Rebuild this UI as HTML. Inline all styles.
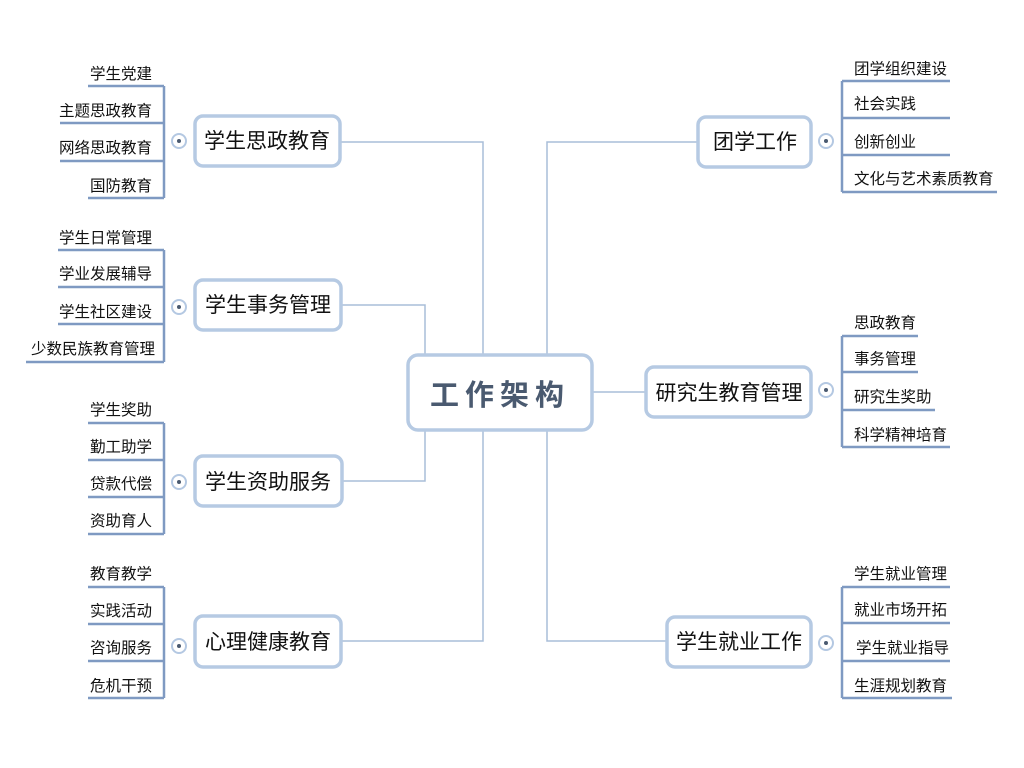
<!DOCTYPE html>
<html><head><meta charset="utf-8"><style>
html,body{margin:0;padding:0;background:#fff;width:1024px;height:768px;overflow:hidden}
text{font-family:"Liberation Sans","Noto Sans CJK SC",sans-serif;fill:#111}
</style></head><body>
<svg width="1024" height="768" viewBox="0 0 1024 768" xmlns="http://www.w3.org/2000/svg">
<g fill="none" stroke="#a9bdd8" stroke-width="1.5">
<path d="M340 142H483V355M341 305H425V355M342 481H425V430M341 641H483V430"/>
<path d="M697 142H547V355M592 392H645M666 641H547V430"/>
</g>
<g fill="none" stroke="#7f9ac2" stroke-width="2.5">
<path d="M164 86V198M88 86H164M60 123H164M60 161H164M88 198H164"/>
<path d="M164 250V362M58 250H164M58 287H164M58 324H164M26 362H164"/>
<path d="M164 423V534M88 423H164M88 460H164M88 497H164M88 534H164"/>
<path d="M164 587V698M88 587H164M88 624H164M88 661H164M88 698H164"/>
<path d="M842 81V192M842 81H950M842 118H950M842 155H950M842 192H997"/>
<path d="M842 336V447M842 336H918M842 372H918M842 410H935M842 447H950"/>
<path d="M842 587V698M842 587H950M842 623H950M842 661H950M842 698H952"/>
</g>
<g font-size="15.5" text-anchor="end">
<text x="152" y="79">学生党建</text><text x="152" y="116">主题思政教育</text><text x="152" y="153">网络思政教育</text><text x="152" y="191">国防教育</text>
<text x="152" y="243">学生日常管理</text><text x="152" y="279">学业发展辅导</text><text x="152" y="317">学生社区建设</text><text x="155" y="354">少数民族教育管理</text>
<text x="152" y="415">学生奖助</text><text x="152" y="452">勤工助学</text><text x="152" y="489">贷款代偿</text><text x="152" y="526">资助育人</text>
<text x="152" y="579">教育教学</text><text x="152" y="616">实践活动</text><text x="152" y="653">咨询服务</text><text x="152" y="691">危机干预</text>
</g>
<g font-size="15.5">
<text x="854" y="74">团学组织建设</text><text x="854" y="109">社会实践</text><text x="854" y="147">创新创业</text><text x="854" y="184">文化与艺术素质教育</text>
<text x="854" y="328">思政教育</text><text x="854" y="364">事务管理</text><text x="854" y="402">研究生奖助</text><text x="854" y="440">科学精神培育</text>
<text x="854" y="579">学生就业管理</text><text x="854" y="615">就业市场开拓</text><text x="856" y="653">学生就业指导</text><text x="854" y="691">生涯规划教育</text>
</g>
<g fill="#fff" stroke="#b4c8e2" stroke-width="2">
<circle cx="179" cy="141" r="7"/><circle cx="179" cy="307" r="7"/><circle cx="179" cy="482" r="7"/><circle cx="179" cy="646" r="7"/>
<circle cx="826" cy="141" r="7"/><circle cx="826" cy="390" r="7"/><circle cx="826" cy="643" r="7"/>
</g>
<g fill="#4a5a70">
<circle cx="179" cy="141" r="2"/><circle cx="179" cy="307" r="2"/><circle cx="179" cy="482" r="2"/><circle cx="179" cy="646" r="2"/>
<circle cx="826" cy="141" r="2"/><circle cx="826" cy="390" r="2"/><circle cx="826" cy="643" r="2"/>
</g>
<g fill="#fff" stroke="#b6cae3" stroke-width="3.5">
<rect x="408" y="355" width="184" height="75" rx="10"/>
<rect x="195" y="116" width="145" height="50" rx="8"/>
<rect x="195" y="280" width="146" height="50" rx="8"/>
<rect x="195" y="456" width="147" height="50" rx="8"/>
<rect x="195" y="616" width="146" height="51" rx="8"/>
<rect x="698" y="117" width="113" height="50" rx="8"/>
<rect x="646" y="367" width="165" height="50" rx="8"/>
<rect x="667" y="617" width="144" height="50" rx="8"/>
</g>
<text x="500" y="405" font-size="29" font-weight="bold" text-anchor="middle" style="fill:#4a5a70;letter-spacing:6px">工作架构</text>
<g font-size="21" text-anchor="middle">
<text x="267" y="148">学生思政教育</text>
<text x="268" y="312">学生事务管理</text>
<text x="268" y="489">学生资助服务</text>
<text x="268" y="649">心理健康教育</text>
<text x="755" y="149">团学工作</text>
<text x="729" y="400">研究生教育管理</text>
<text x="739" y="649">学生就业工作</text>
</g>
</svg>
</body></html>
